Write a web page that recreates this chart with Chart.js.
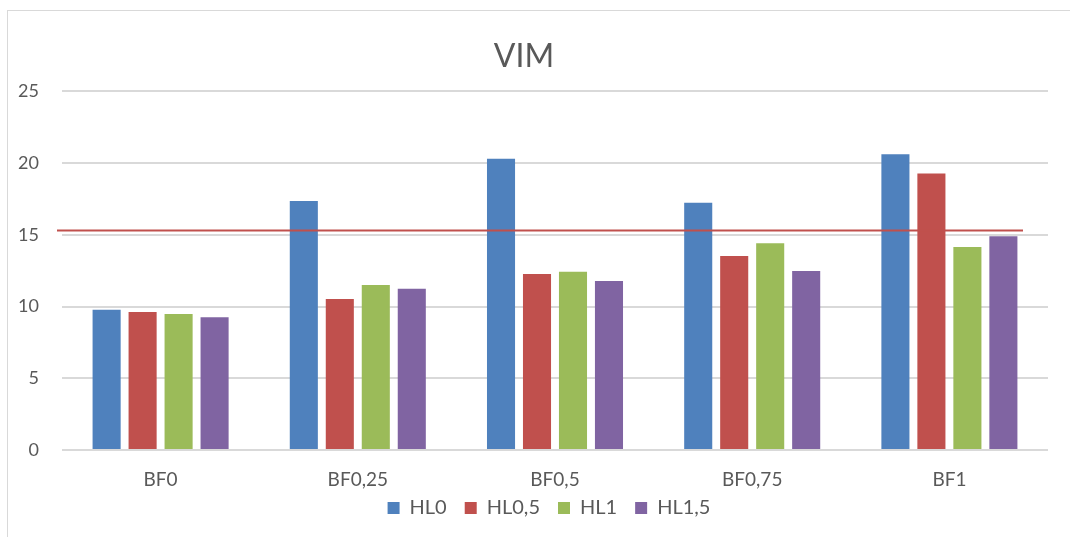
<!DOCTYPE html>
<html>
<head>
<meta charset="utf-8">
<title>VIM</title>
<script src="https://cdn.jsdelivr.net/npm/chart.js@4/dist/chart.umd.min.js"></script>
<style>
    body { margin: 0; background: #fff; overflow: hidden; }
    #wrap { position: relative; width: 1070px; height: 537px; overflow: hidden; }
    #frame { position: absolute; left: 7px; top: 10px; width: 1100px; height: 600px; border: 1px solid #d9d9d9; }
    #chartVim { position: absolute; left: 0; top: 0; }
</style>
</head>
<body>
<div id="wrap">
    <div id="frame"></div>
    <canvas id="chartVim" width="1070" height="537"></canvas>
</div>
<script>
let categories = ['BF0', 'BF0,25', 'BF0,5', 'BF0,75', 'BF1'];
let hl0   = [9.78, 17.36, 20.31, 17.24, 20.61];
let hl05  = [9.62, 10.53, 12.27, 13.53, 19.27];
let hl1   = [9.48, 11.50, 12.43, 14.41, 14.16];
let hl15  = [9.25, 11.25, 11.78, 12.48, 14.90];
let yTicks = [0, 5, 10, 15, 20, 25];
let limitVim = 15.3; // горизонтальная линия порога

let fontName = 'Lato, "Open Sans", sans-serif';
let textColor = '#595959';

// красная линия порога поверх столбцов
let limitLine = {
    id: 'limitLine',
    afterDatasetsDraw(chart) {
        let ctx = chart.ctx;
        let y = chart.scales.y.getPixelForValue(limitVim);
        ctx.save();
        ctx.strokeStyle = '#c0504d';
        ctx.lineWidth = 2;
        ctx.beginPath();
        ctx.moveTo(chart.chartArea.left - 5, y);
        ctx.lineTo(chart.chartArea.right - 25, y);
        ctx.stroke();
        ctx.restore();
    }
};

// легенда чуть выше и правее (под центром области графика)
let legendShift = {
    id: 'legendShift',
    afterLayout(chart) {
        let lg = chart.legend;
        lg.top -= 14;
        lg.bottom -= 14;
        lg.left += 25;
        lg.right += 25;
    }
};

let ctx_vim = document.getElementById('chartVim').getContext('2d');
let chart_vim = new Chart(ctx_vim, {
    type: 'bar',
    data: {
        labels: categories,
        datasets: [
        {
            label: 'HL0',
            backgroundColor: '#4f81bd',
            data: hl0,
        },
        {
            label: 'HL0,5',
            backgroundColor: '#c0504d',
            data: hl05,
        },
        {
            label: 'HL1',
            backgroundColor: '#9bbb59',
            data: hl1,
        },
        {
            label: 'HL1,5',
            backgroundColor: '#8064a2',
            data: hl15,
        }],
    },
    options: {
        responsive: false,
        animation: false,
        categoryPercentage: 0.73,
        barPercentage: 0.78,
        layout: { padding: { left: 0, right: 22, top: 0, bottom: 3 } },
        plugins: {
            title: {
                display: true,
                text: 'VIM',
                color: textColor,
                font: { family: fontName, size: 32, weight: 'normal' },
                padding: { top: 37, bottom: 16 },
            },
            legend: {
                position: 'bottom',
                maxHeight: 40,
                labels: {
                    color: textColor,
                    font: { family: fontName, size: 20 },
                    boxWidth: 12,
                    boxHeight: 12,
                    padding: 18,
                },
            },
            tooltip: { enabled: false },
        },
        scales: {
            x: {
                grid: { display: false, drawTicks: false },
                border: { display: false },
                ticks: {
                    color: textColor,
                    font: { family: fontName, size: 19 },
                    padding: 18,
                },
                afterFit(scale) { scale.height = 44; },
            },
            y: {
                min: 0,
                max: 25,
                afterBuildTicks(scale) { scale.ticks = yTicks.map(v => ({ value: v })); },
                grid: { color: '#d9d9d9', lineWidth: 2, drawTicks: false },
                border: { display: false },
                ticks: {
                    color: textColor,
                    font: { family: fontName, size: 18 },
                    padding: 23,
                },
                afterFit(scale) { scale.width = 62; },
            },
        },
    },
    plugins: [limitLine, legendShift],
});
</script>
</body>
</html>
